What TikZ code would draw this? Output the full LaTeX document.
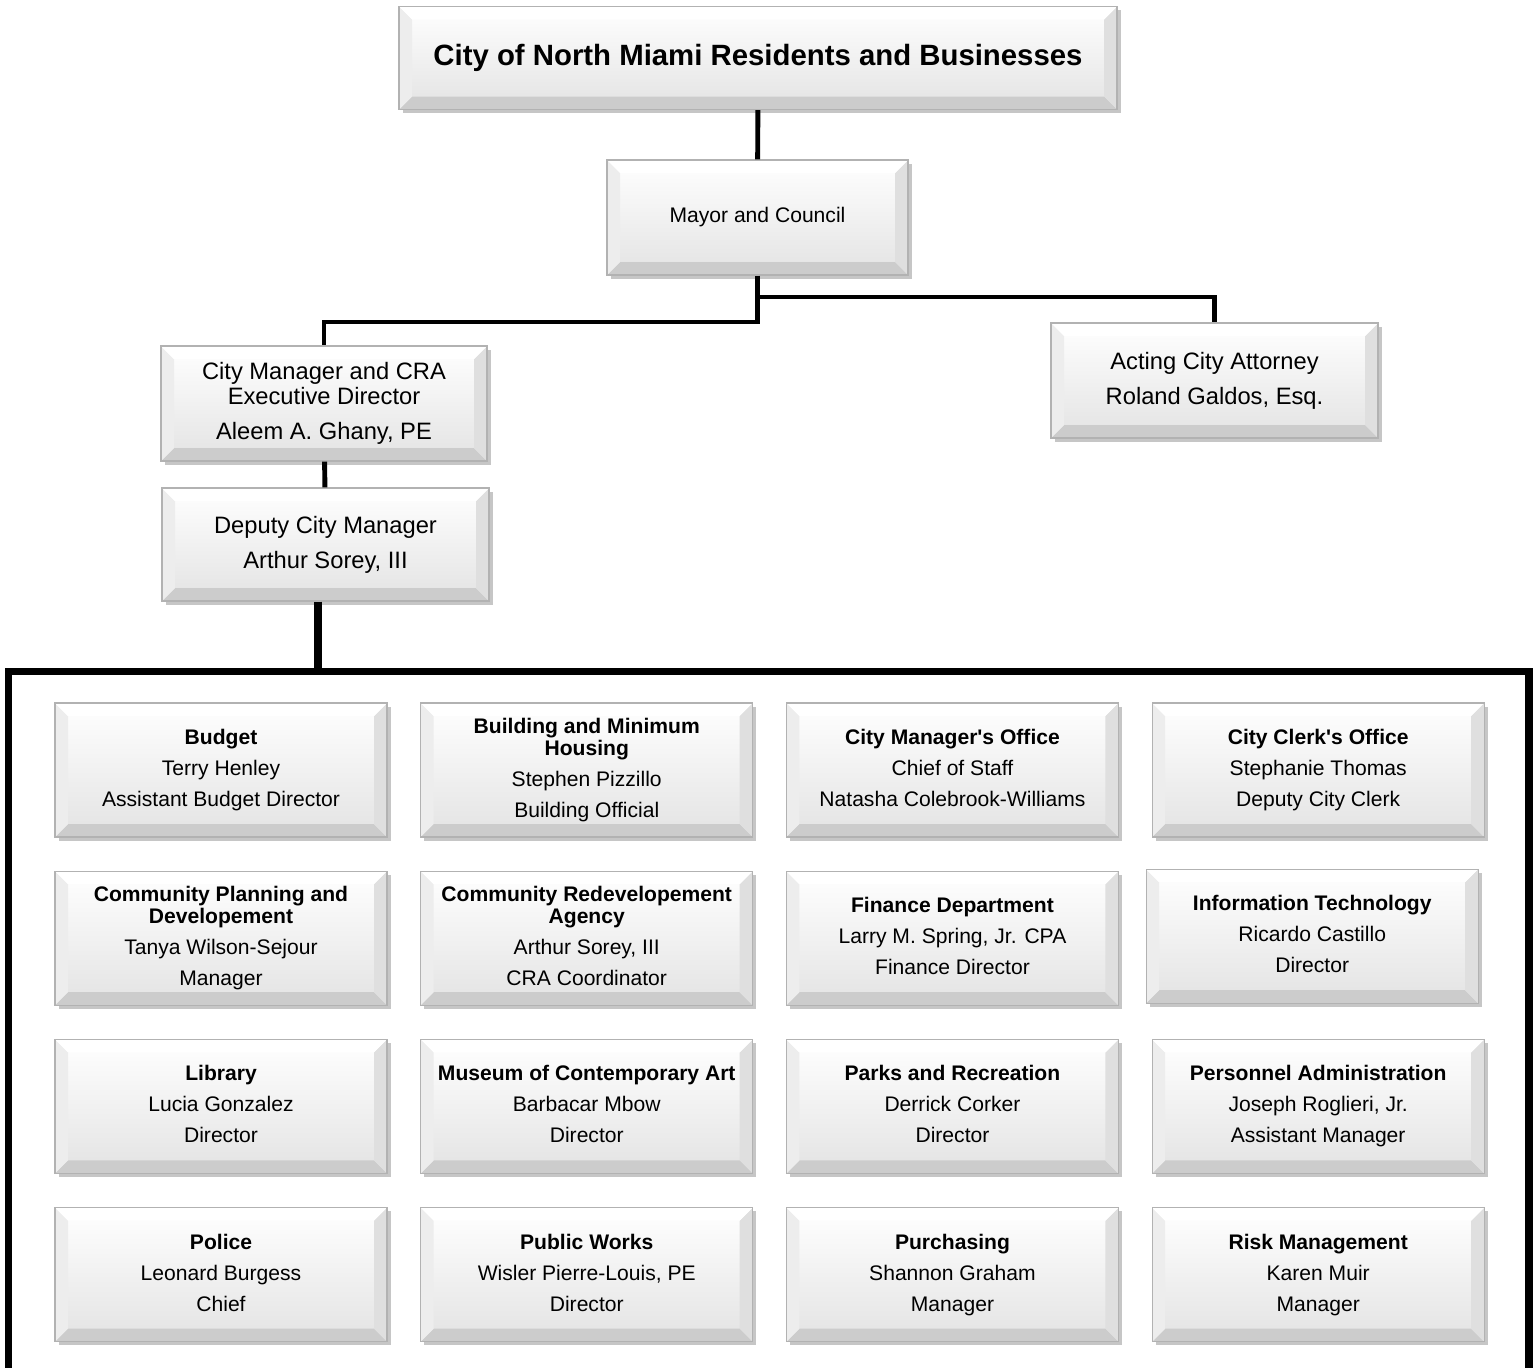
\documentclass[tikz,border=0pt]{standalone}
\usepackage{fontspec}
\setmainfont{Liberation Sans}
\usetikzlibrary{positioning,shadows}

\newlength\bevelw
\setlength\bevelw{0.26cm}

\tikzset{
	bevelbox/.style={draw=gray!60, line width=0.7pt, top color=white, bottom color=gray!22,
		drop shadow={shadow xshift=0.7mm, shadow yshift=-0.7mm, opacity=0.45}, align=center,
		path picture={
			\coordinate (bsw) at (path picture bounding box.south west);
			\coordinate (bne) at (path picture bounding box.north east);
			\coordinate (bse) at (bsw -| bne);
			\coordinate (bnw) at (bsw |- bne);
			\fill[gray!40] (bsw) -- (bse) -- ([shift={(-\bevelw,\bevelw)}]bse) -- ([shift={(\bevelw,\bevelw)}]bsw) -- cycle;
			\fill[gray!25] (bse) -- (bne) -- ([shift={(-\bevelw,-\bevelw)}]bne) -- ([shift={(-\bevelw,\bevelw)}]bse) -- cycle;
			\fill[gray!14] (bsw) -- (bnw) -- ([shift={(\bevelw,-\bevelw)}]bnw) -- ([shift={(\bevelw,\bevelw)}]bsw) -- cycle;
			\fill[white] (bnw) -- (bne) -- ([shift={(-\bevelw,-\bevelw)}]bne) -- ([shift={(\bevelw,-\bevelw)}]bnw) -- cycle;
		}},
	unit/.style={bevelbox, minimum width=6.64cm, minimum height=2.68cm, font=\fontsize{12}{17.6}\selectfont,
		execute at end node=\vphantom{g}},
	chief/.style={bevelbox, minimum width=6.54cm, minimum height=2.3cm, font=\fontsize{13.5}{19.8}\selectfont},
	link/.style={line width=2.8pt},
	heavylink/.style={line width=4pt},
}

\begin{document}
\begin{tikzpicture}
	\useasboundingbox (0,0) rectangle (30.76,-27.36);
	
	\node[bevelbox, minimum width=14.36cm, minimum height=2.06cm, font=\fontsize{16.7}{20}\selectfont\bfseries] (residents) at (15.16,-1.16) {City of North Miami Residents and Businesses};
	\node[bevelbox, minimum width=6.02cm, minimum height=2.3cm, font=\fontsize{12}{16}\selectfont] (mayor) at (15.15,-4.35) {Mayor and Council};
	\node[chief, minimum width=6.52cm] (manager) at (6.48,-8.07) {City Manager and CRA\\[-5.8pt]Executive Director\\Aleem A. Ghany, PE};
	\node[chief] (attorney) at (24.29,-7.61) {Acting City Attorney\\Roland Galdos, Esq.};
	\node[chief, minimum height=2.26cm] (deputy) at (6.51,-10.89) {Deputy City Manager\\Arthur Sorey, III};
	
	\coordinate (jr) at (15.15,-5.94);
	\coordinate (jl) at (15.15,-6.44);
	\coordinate (ftop) at (6.36,-13.43);
	
	\draw[link] (residents) -- (mayor);
	\draw[link] (mayor.south) -- (jl) -| (manager.north);
	\draw[link] (jr) -| (attorney.north);
	\draw[link] (manager) -- (deputy);
	\draw[heavylink] (deputy.south -| ftop) -- (ftop);
	\draw[heavylink] (0.17,-27.8) -- (0.17,-13.43) -- (30.58,-13.43) -- (30.58,-27.8);
	
	\node[unit] (budget) at (4.42,-15.4) {\textbf{Budget}\\Terry Henley\\Assistant Budget Director};
	\node[unit, right=0.65cm of budget] (building) {\textbf{Building and Minimum}\\[-5.1pt]\textbf{Housing}\\Stephen Pizzillo\\Building Official};
	\node[unit, right=0.65cm of building] (cmoffice) {\textbf{City Manager\textquotesingle s Office}\\Chief of Staff\\Natasha Colebrook-Williams};
	\node[unit, right=0.65cm of cmoffice] (clerk) {\textbf{City Clerk\textquotesingle s Office}\\Stephanie Thomas\\Deputy City Clerk};
	
	\node[unit, below=0.66cm of budget] (planning) {\textbf{Community Planning and}\\[-5.1pt]\textbf{Developement}\\Tanya Wilson-Sejour\\Manager};
	\node[unit, below=0.66cm of building] (cra) {\textbf{Community Redevelopement}\\[-5.1pt]\textbf{Agency}\\Arthur Sorey, III\\CRA Coordinator};
	\node[unit, below=0.66cm of cmoffice] (finance) {\textbf{Finance Department}\\Larry M. Spring, Jr. CPA\\Finance Director};
	\node[unit, below=0.62cm of clerk, xshift=-0.12cm] (it) {\textbf{Information Technology}\\Ricardo Castillo\\Director};
	
	\node[unit, below=0.66cm of planning] (library) {\textbf{Library}\\Lucia Gonzalez\\Director};
	\node[unit, below=0.66cm of cra] (museum) {\textbf{Museum of Contemporary Art}\\Barbacar Mbow\\Director};
	\node[unit, below=0.66cm of finance] (parks) {\textbf{Parks and Recreation}\\Derrick Corker\\Director};
	\node[unit, right=0.65cm of parks] (personnel) {\textbf{Personnel Administration}\\Joseph Roglieri, Jr.\\Assistant Manager};
	
	\node[unit, below=0.66cm of library] (police) {\textbf{Police}\\Leonard Burgess\\Chief};
	\node[unit, below=0.66cm of museum] (works) {\textbf{Public Works}\\Wisler Pierre-Louis, PE\\Director};
	\node[unit, below=0.66cm of parks] (purchasing) {\textbf{Purchasing}\\Shannon Graham\\Manager};
	\node[unit, below=0.66cm of personnel] (risk) {\textbf{Risk Management}\\Karen Muir\\Manager};
\end{tikzpicture}
\end{document}
